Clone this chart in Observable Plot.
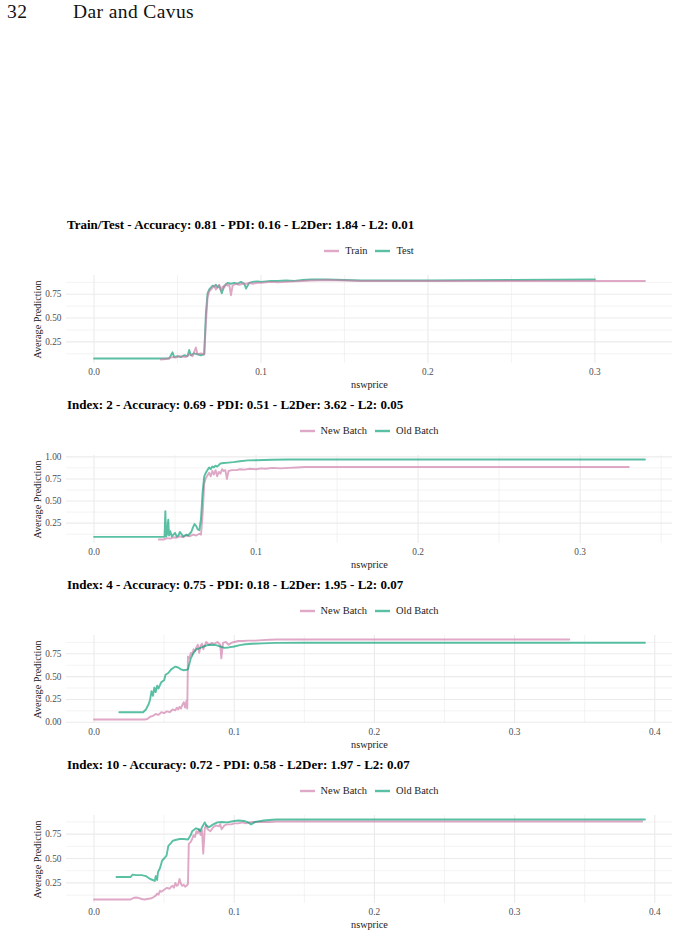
<!DOCTYPE html>
<html><head><meta charset="utf-8">
<script src="https://cdn.jsdelivr.net/npm/d3@7"></script>
<script src="https://cdn.jsdelivr.net/npm/@observablehq/plot@0.6"></script>
<style>
body{margin:0;background:#fff;font-family:"Liberation Serif","DejaVu Serif",serif;}
#page{position:relative;width:677px;height:937px;overflow:hidden;background:#fff;}
.hdr{position:absolute;top:1px;font-size:19.5px;color:#111;letter-spacing:0.4px;}
.panel{position:absolute;left:0;width:677px;height:180px;}
.title{position:absolute;left:67px;top:0;font-weight:bold;font-size:13px;line-height:14px;color:#000;white-space:nowrap;}
.legend{position:absolute;left:66px;width:606px;top:27px;text-align:center;font-size:10.4px;line-height:12px;color:#222;}
.legend .item{display:inline-flex;align-items:center;margin:0 4px;}
.legend svg{margin-right:6px;}
.plot{position:absolute;left:0;top:52px;}
</style></head>
<body><div id="page">
<div class="hdr" style="left:7px">32</div>
<div class="hdr" style="left:73px">Dar and Cavus</div>
</div>
<script>
// ---------- data ----------
const titles = [
  "Train/Test - Accuracy: 0.81 - PDI: 0.16 - L2Der: 1.84 - L2: 0.01",
  "Index: 2 - Accuracy: 0.69 - PDI: 0.51 - L2Der: 3.62 - L2: 0.05",
  "Index: 4 - Accuracy: 0.75 - PDI: 0.18 - L2Der: 1.95 - L2: 0.07",
  "Index: 10 - Accuracy: 0.72 - PDI: 0.58 - L2Der: 1.97 - L2: 0.07"
];
const legend1 = ["Train", "Test"];
const legendBatch = ["New Batch", "Old Batch"];
const xTicksA = [0, 0.1, 0.2, 0.3];
const xTicksB = [0, 0.1, 0.2, 0.3, 0.4];
const yTicksAll = [0, 0.25, 0.5, 0.75, 1.0];
const xLabel = "nswprice";
const yLabel = "Average Prediction";

// Panel 1
const p1TrainX = [0.040,0.043,0.045,0.047,0.049,0.051,0.053,0.055,0.057,0.059,0.061,0.062,0.064,0.066,0.067,0.068,0.069,0.070,0.071,0.072,0.073,0.074,0.075,0.076,0.077,0.078,0.079,0.080,0.081,0.082,0.083,0.085,0.087,0.089,0.091,0.093,0.095,0.098,0.100,0.103,0.106,0.110,0.115,0.120,0.125,0.130,0.140,0.150,0.160,0.180,0.200,0.250,0.300,0.330];
const p1TrainY = [0.065,0.07,0.08,0.09,0.085,0.10,0.095,0.09,0.12,0.10,0.19,0.12,0.13,0.12,0.45,0.72,0.78,0.80,0.82,0.84,0.80,0.83,0.85,0.79,0.83,0.82,0.86,0.84,0.85,0.74,0.84,0.86,0.85,0.86,0.86,0.87,0.86,0.87,0.87,0.875,0.88,0.875,0.88,0.885,0.89,0.895,0.90,0.895,0.89,0.89,0.89,0.89,0.89,0.89];
const p1TestX = [0,0.045,0.047,0.048,0.050,0.052,0.054,0.056,0.057,0.058,0.060,0.062,0.064,0.066,0.067,0.068,0.069,0.070,0.071,0.072,0.073,0.074,0.075,0.0765,0.078,0.079,0.080,0.082,0.084,0.086,0.088,0.090,0.091,0.093,0.095,0.098,0.100,0.103,0.106,0.110,0.115,0.120,0.125,0.130,0.140,0.150,0.160,0.200,0.250,0.300];
const p1TestY = [0.075,0.075,0.14,0.09,0.10,0.09,0.11,0.10,0.165,0.11,0.13,0.12,0.11,0.12,0.55,0.76,0.80,0.82,0.84,0.83,0.85,0.82,0.84,0.76,0.84,0.85,0.87,0.86,0.87,0.86,0.88,0.86,0.81,0.87,0.88,0.885,0.88,0.885,0.89,0.89,0.895,0.89,0.90,0.905,0.905,0.90,0.895,0.895,0.90,0.905];

// Panel 2
const p2NewX = [0.040,0.043,0.045,0.047,0.049,0.051,0.053,0.055,0.057,0.059,0.061,0.063,0.065,0.066,0.067,0.068,0.069,0.070,0.071,0.072,0.073,0.074,0.075,0.076,0.077,0.078,0.079,0.080,0.081,0.082,0.083,0.085,0.088,0.090,0.093,0.096,0.100,0.103,0.106,0.110,0.115,0.120,0.125,0.130,0.150,0.200,0.250,0.300,0.330];
const p2NewY = [0.065,0.065,0.08,0.075,0.09,0.085,0.10,0.09,0.11,0.10,0.12,0.11,0.13,0.12,0.35,0.70,0.76,0.79,0.82,0.78,0.84,0.80,0.85,0.78,0.83,0.81,0.86,0.84,0.85,0.75,0.84,0.85,0.85,0.86,0.855,0.865,0.86,0.87,0.865,0.875,0.87,0.875,0.88,0.885,0.885,0.885,0.885,0.885,0.885];
const p2OldX = [0,0.0435,0.044,0.0445,0.045,0.0458,0.0463,0.047,0.048,0.049,0.050,0.051,0.052,0.053,0.055,0.056,0.057,0.058,0.059,0.060,0.061,0.062,0.063,0.064,0.065,0.066,0.067,0.068,0.069,0.070,0.071,0.072,0.073,0.074,0.075,0.076,0.078,0.080,0.083,0.086,0.090,0.095,0.100,0.110,0.120,0.150,0.200,0.300,0.340];
const p2OldY = [0.095,0.095,0.385,0.10,0.12,0.29,0.11,0.16,0.10,0.12,0.14,0.10,0.11,0.15,0.10,0.11,0.12,0.11,0.13,0.15,0.20,0.24,0.22,0.18,0.17,0.30,0.60,0.78,0.82,0.85,0.88,0.86,0.89,0.88,0.90,0.89,0.925,0.93,0.935,0.94,0.95,0.96,0.962,0.967,0.97,0.97,0.97,0.97,0.97];

// Panel 3
const p3NewX = [0,0.036,0.038,0.040,0.042,0.044,0.046,0.048,0.050,0.052,0.054,0.056,0.058,0.059,0.060,0.061,0.062,0.063,0.064,0.065,0.066,0.0665,0.067,0.068,0.069,0.070,0.071,0.072,0.073,0.074,0.075,0.076,0.077,0.078,0.079,0.080,0.082,0.084,0.086,0.088,0.090,0.0908,0.092,0.094,0.096,0.098,0.100,0.103,0.106,0.110,0.115,0.120,0.125,0.130,0.150,0.200,0.250,0.300,0.339];
const p3NewY = [0.03,0.03,0.035,0.06,0.07,0.09,0.08,0.11,0.10,0.12,0.11,0.14,0.13,0.16,0.14,0.17,0.15,0.19,0.22,0.16,0.24,0.15,0.72,0.70,0.76,0.74,0.80,0.78,0.82,0.85,0.76,0.84,0.86,0.80,0.84,0.88,0.85,0.87,0.86,0.88,0.85,0.70,0.87,0.88,0.85,0.87,0.88,0.89,0.89,0.895,0.895,0.90,0.905,0.907,0.907,0.907,0.907,0.907,0.907];
const p3OldX = [0.018,0.035,0.037,0.039,0.040,0.041,0.042,0.043,0.044,0.045,0.046,0.048,0.050,0.051,0.053,0.055,0.057,0.058,0.060,0.062,0.064,0.066,0.067,0.068,0.069,0.071,0.073,0.075,0.078,0.081,0.084,0.087,0.090,0.093,0.096,0.100,0.104,0.108,0.113,0.120,0.130,0.150,0.200,0.300,0.393];
const p3OldY = [0.11,0.11,0.14,0.20,0.25,0.34,0.29,0.38,0.33,0.40,0.37,0.44,0.46,0.52,0.54,0.58,0.60,0.61,0.60,0.58,0.57,0.575,0.58,0.64,0.70,0.76,0.80,0.81,0.83,0.845,0.85,0.845,0.83,0.815,0.82,0.83,0.845,0.855,0.86,0.865,0.87,0.872,0.872,0.872,0.872];

// Panel 4
const p4NewX = [0,0.026,0.028,0.030,0.032,0.034,0.036,0.038,0.040,0.042,0.044,0.045,0.046,0.047,0.048,0.050,0.052,0.054,0.055,0.056,0.057,0.058,0.059,0.060,0.061,0.062,0.063,0.064,0.065,0.066,0.067,0.0676,0.069,0.070,0.071,0.072,0.073,0.074,0.075,0.076,0.077,0.0779,0.079,0.080,0.081,0.083,0.085,0.087,0.089,0.090,0.091,0.093,0.095,0.098,0.100,0.103,0.106,0.108,0.111,0.113,0.118,0.125,0.130,0.150,0.200,0.300,0.391];
const p4NewY = [0.08,0.08,0.095,0.10,0.095,0.085,0.08,0.085,0.09,0.10,0.12,0.14,0.13,0.17,0.16,0.18,0.20,0.19,0.21,0.22,0.20,0.25,0.22,0.23,0.29,0.24,0.22,0.23,0.21,0.22,0.24,0.65,0.67,0.70,0.74,0.72,0.78,0.76,0.80,0.74,0.79,0.55,0.81,0.84,0.80,0.78,0.82,0.84,0.83,0.85,0.80,0.84,0.85,0.85,0.86,0.86,0.87,0.86,0.87,0.875,0.875,0.875,0.88,0.88,0.88,0.88,0.88];
const p4OldX = [0.016,0.026,0.0275,0.030,0.034,0.037,0.040,0.042,0.0433,0.044,0.045,0.0456,0.047,0.0486,0.050,0.0517,0.053,0.055,0.056,0.058,0.061,0.064,0.067,0.069,0.070,0.0727,0.0745,0.0757,0.077,0.079,0.080,0.082,0.085,0.088,0.091,0.095,0.100,0.103,0.107,0.110,0.112,0.115,0.121,0.125,0.130,0.150,0.200,0.300,0.393];
const p4OldY = [0.31,0.31,0.335,0.33,0.33,0.32,0.29,0.28,0.27,0.32,0.28,0.36,0.40,0.48,0.50,0.53,0.63,0.66,0.68,0.69,0.70,0.70,0.695,0.74,0.78,0.81,0.80,0.78,0.82,0.87,0.84,0.82,0.85,0.87,0.875,0.87,0.885,0.89,0.885,0.87,0.85,0.875,0.89,0.895,0.90,0.90,0.90,0.90,0.90];

// ---------- build ----------
const PINK = "#CC79A7", GREEN = "#009E73";
const panels = [
  {title: titles[0], series: [
    {name: legend1[0], x: p1TrainX, y: p1TrainY, color: PINK},
    {name: legend1[1], x: p1TestX, y: p1TestY, color: GREEN}], xTicks: xTicksA, top: 218},
  {title: titles[1], series: [
    {name: legendBatch[0], x: p2NewX, y: p2NewY, color: PINK},
    {name: legendBatch[1], x: p2OldX, y: p2OldY, color: GREEN}], xTicks: xTicksA, top: 398},
  {title: titles[2], series: [
    {name: legendBatch[0], x: p3NewX, y: p3NewY, color: PINK},
    {name: legendBatch[1], x: p3OldX, y: p3OldY, color: GREEN}], xTicks: xTicksB, top: 578},
  {title: titles[3], series: [
    {name: legendBatch[0], x: p4NewX, y: p4NewY, color: PINK},
    {name: legendBatch[1], x: p4OldX, y: p4OldY, color: GREEN}], xTicks: xTicksB, top: 758}
];

function expand(ext) { const d = (ext[1] - ext[0]) * 0.05; return [ext[0] - d, ext[1] + d]; }

const page = document.getElementById("page");
const LINE_OP = 0.65;
for (const p of panels) {
  const div = document.createElement("div");
  div.className = "panel";
  div.style.top = p.top + "px";
  const t = document.createElement("div");
  t.className = "title"; t.textContent = p.title; div.appendChild(t);
  const lg = document.createElement("div"); lg.className = "legend";
  for (const s of p.series) {
    const it = document.createElement("span"); it.className = "item";
    it.innerHTML = `<svg width="15" height="6"><line x1="0" x2="15" y1="3" y2="3" stroke="${s.color}" stroke-opacity="${LINE_OP}" stroke-width="2.4"/></svg>`;
    const tx = document.createElement("span"); tx.textContent = s.name; it.appendChild(tx);
    lg.appendChild(it);
  }
  div.appendChild(lg);

  const allX = p.series.flatMap(s => s.x), allY = p.series.flatMap(s => s.y);
  const xDom = expand(d3.extent(allX)), yDom = expand(d3.extent(allY));
  const xMinor = d3.range(-0.05, 0.5, 0.1).map(v => +v.toFixed(3)).filter(v => v >= xDom[0] && v <= xDom[1]);
  const xMajor = d3.range(-0.1, 0.5, 0.1).map(v => +v.toFixed(3)).filter(v => v >= xDom[0] && v <= xDom[1]);
  const yMajor = yTicksAll.filter(v => v >= yDom[0] && v <= yDom[1]);
  const yMinor = d3.range(-0.125, 1.2, 0.25).map(v => +v.toFixed(3)).filter(v => v >= yDom[0] && v <= yDom[1]);
  const drawOrder = [...p.series].sort((a, b) => d3.ascending(a.name, b.name));

  const chart = Plot.plot({
    width: 677, height: 125,
    marginLeft: 66, marginRight: 5, marginTop: 5, marginBottom: 32,
    x: {domain: xDom},
    y: {domain: yDom},
    style: {fontFamily: "'Liberation Serif', serif", fontSize: "9.3px", color: "#4d4d4d", background: "transparent", overflow: "visible"},
    marks: [
      Plot.gridX(xMinor, {stroke: "#ebebeb", strokeOpacity: 1, strokeWidth: 0.6}),
      Plot.gridX(xMajor, {stroke: "#ebebeb", strokeOpacity: 1, strokeWidth: 1.1}),
      Plot.gridY(yMinor, {stroke: "#ebebeb", strokeOpacity: 1, strokeWidth: 0.6}),
      Plot.gridY(yMajor, {stroke: "#ebebeb", strokeOpacity: 1, strokeWidth: 1.1}),
      Plot.axisX(p.xTicks, {tickSize: 0, tickPadding: 5, tickFormat: d3.format(".1f"), label: null, fill: "#4d4d4d"}),
      Plot.axisY(yMajor, {tickSize: 0, tickPadding: 5, tickFormat: d3.format(".2f"), label: null, fill: "#4d4d4d"}),
      Plot.text([xLabel], {frameAnchor: "bottom", dy: 21, text: d => d, fill: "#1a1a1a", fontSize: 10.2, textAnchor: "middle", lineAnchor: "middle"}),
      Plot.text([yLabel], {frameAnchor: "left", dx: -29, rotate: -90, text: d => d, fill: "#1a1a1a", fontSize: 10.2, textAnchor: "middle", lineAnchor: "middle"}),
      ...drawOrder.map(s => Plot.line(s.x, {x: s.x, y: s.y, stroke: s.color, strokeOpacity: LINE_OP, strokeWidth: 1.9, strokeLinejoin: "round"}))
    ]
  });
  const holder = document.createElement("div"); holder.className = "plot"; holder.appendChild(chart);
  div.appendChild(holder);
  page.appendChild(div);
}
</script>
</body></html>
